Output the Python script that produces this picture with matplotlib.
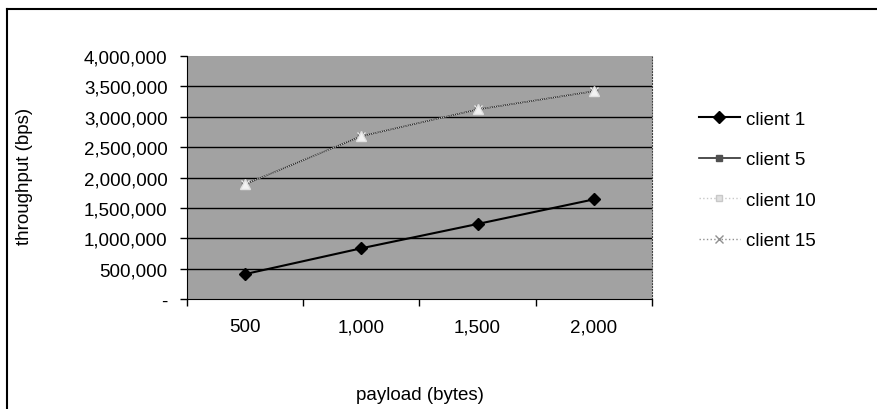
import matplotlib
matplotlib.use("Agg")
import matplotlib.pyplot as plt
from matplotlib.lines import Line2D
from matplotlib.ticker import FuncFormatter, FixedLocator

plt.rcParams['font.family'] = ['Liberation Sans', 'DejaVu Sans']

payload = ["500", "1,000", "1,500", "2,000"]
client1 = [410000, 835000, 1235000, 1640000]
client5 = [1890000, 2680000, 3120000, 3420000]
client10 = [1890000, 2680000, 3120000, 3420000]
client15 = [1890000, 2680000, 3120000, 3420000]
yticks = [0, 500000, 1000000, 1500000, 2000000, 2500000, 3000000, 3500000, 4000000]

W, H = 878, 410
FS = 13.5
fig = plt.figure(figsize=(W / 100, H / 100), dpi=100)
fig.patch.set_facecolor("white")

# outer chart frame (left and top visible)
fig.add_artist(Line2D([7 / W, 7 / W], [0, 1 - 10 / H], color="black", lw=1.5, transform=fig.transFigure))
fig.add_artist(Line2D([7 / W, 1], [1 - 10 / H, 1 - 10 / H], color="black", lw=1.5, transform=fig.transFigure))

ax = fig.add_axes([187 / W, 1 - 300 / H, (652 - 187) / W, (300 - 57) / H])
ax.set_facecolor("#a2a2a2")

x = list(range(len(payload)))
for v in yticks[1:-1]:
    ax.axhline(v, color="black", lw=1.0, zorder=1)

ax.plot(x, client5, color="#303030", lw=1.0, marker="s", ms=4, mfc="#505050", mec="#505050", zorder=2)
ax.plot(x, client15, color="#d0d0d0", lw=0.6, ls=":", marker="x", ms=6, mec="#e8e8e8", zorder=3)
ax.plot(x, client10, color="#d8d8d8", lw=0.6, ls=":", marker="^", ms=7, mfc="#f2f2f2", mec="#e0e0e0", zorder=4)
ax.plot(x, client1, color="black", lw=1.5, marker="D", ms=6, mfc="black", mec="black", zorder=5)

ax.set_xlim(-0.5, len(payload) - 0.5)
ax.set_ylim(0, 4000000)

ax.xaxis.set_major_locator(FixedLocator([i - 0.5 for i in range(len(payload) + 1)]))
ax.xaxis.set_minor_locator(FixedLocator(x))
ax.set_xticklabels([])
ax.set_xticklabels(payload, minor=True)
ax.tick_params(axis="x", which="major", direction="out", length=5, width=1, color="black")
ax.tick_params(axis="x", which="minor", length=0, pad=14, labelsize=FS)

ax.set_yticks(yticks)
ax.yaxis.set_major_formatter(FuncFormatter(lambda v, p: "-" if v == 0 else f"{int(v):,}"))
ax.tick_params(axis="y", direction="out", length=5, width=1, color="black", labelsize=FS, pad=9)

ax.spines["top"].set_visible(False)
ax.spines["right"].set_color("#404040")
ax.spines["right"].set_linestyle(":")
ax.spines["left"].set_color("black")
ax.spines["bottom"].set_color("black")

fig.text(25 / W, 1 - 176 / H, "throughput (bps)", rotation=90, ha="center", va="center", fontsize=FS)
fig.text(420 / W, 1 - 396 / H, "payload (bytes)", ha="center", va="center", fontsize=FS)

handles = [
    Line2D([], [], color="black", lw=1.5, marker="D", ms=6, mfc="black", mec="black"),
    Line2D([], [], color="#303030", lw=1.2, marker="s", ms=5, mfc="#505050", mec="#505050"),
    Line2D([], [], color="#c8c8c8", lw=1.0, ls=":", marker="s", ms=5, mfc="#e0e0e0", mec="#c8c8c8"),
    Line2D([], [], color="#909090", lw=1.0, ls=":", marker="x", ms=6, mec="#909090"),
]
labels = ["client 1", "client 5", "client 10", "client 15"]
fig.legend(handles, labels, loc="center left", bbox_to_anchor=(682 / W, 1 - 181 / H),
           frameon=False, fontsize=FS, handlelength=2.2, handletextpad=0.3, labelspacing=1.25)

fig.savefig("out.png", dpi=100)
